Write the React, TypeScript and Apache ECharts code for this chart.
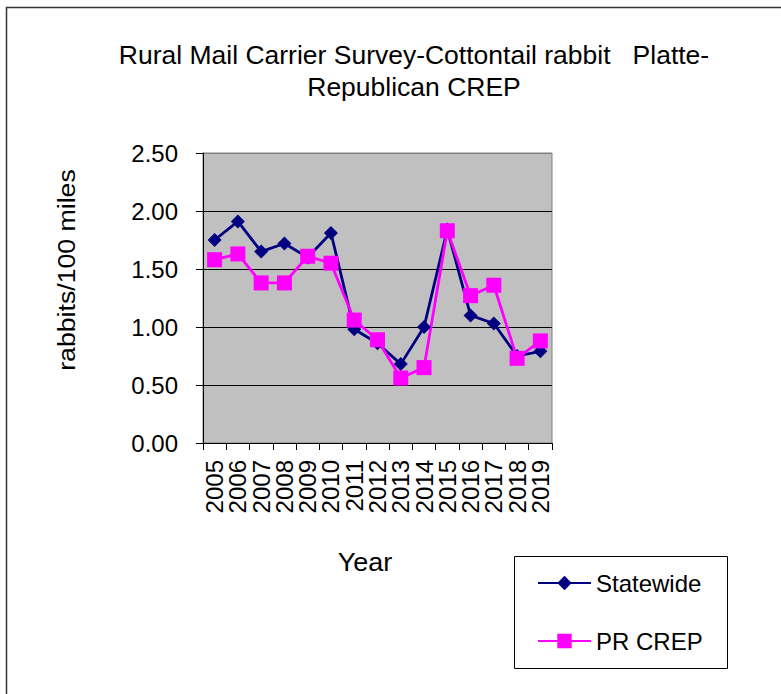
import React, { useEffect, useRef } from "react";
import * as echarts from "echarts";

const years = ["2005","2006","2007","2008","2009","2010","2011","2012","2013","2014","2015","2016","2017","2018","2019"];
const statewide = [1.75, 1.91, 1.65, 1.72, 1.60, 1.81, 0.98, 0.86, 0.68, 1.00, 1.84, 1.10, 1.03, 0.75, 0.79];
const prCrep = [1.58, 1.63, 1.38, 1.38, 1.61, 1.55, 1.06, 0.89, 0.56, 0.65, 1.83, 1.27, 1.36, 0.73, 0.88];
const titleText = "Rural Mail Carrier Survey-Cottontail rabbit   Platte-\nRepublican CREP";
const FONT = "'Liberation Sans', Arial, sans-serif";

export default function App() {
  const ref = useRef<HTMLDivElement>(null);
  useEffect(() => {
    const chart = echarts.init(ref.current!, null, { renderer: "svg" });
    chart.setOption({
      animation: false,
      backgroundColor: "#ffffff",
      textStyle: { fontFamily: FONT },
      grid: {
        left: 203, top: 153, width: 349, height: 290,
        show: true, backgroundColor: "#C0C0C0", borderColor: "#808080", borderWidth: 1,
        containLabel: false,
      },
      legend: {
        orient: "vertical",
        left: 537, top: 571, padding: 0,
        itemWidth: 53, itemHeight: 18, itemGap: 34,
        textStyle: { fontFamily: FONT, fontSize: 24, color: "#000", lineHeight: 24 },
        data: ["Statewide", "PR CREP"],
      },
      xAxis: {
        type: "category",
        data: years,
        boundaryGap: true,
        axisLine: { lineStyle: { color: "#000", width: 1 } },
        axisTick: { show: true, length: 7, lineStyle: { color: "#000" } },
        axisLabel: { rotate: 90, fontSize: 24, color: "#000", margin: 17, fontFamily: FONT, interval: 0 },
        splitLine: { show: false },
      },
      yAxis: {
        type: "value",
        min: 0, max: 2.5, interval: 0.5,
        axisLine: { show: true, lineStyle: { color: "#000", width: 1 } },
        axisTick: { show: true, length: 7, lineStyle: { color: "#000" } },
        axisLabel: { fontSize: 24, color: "#000", margin: 25, fontFamily: FONT, formatter: (v: number) => v.toFixed(2) },
        splitLine: { show: true, lineStyle: { color: ["#000", "#000", "#000", "#000", "#000", "#808080"], width: 1 } },
      },
      series: [
        {
          name: "Statewide", type: "line", data: statewide,
          symbol: "diamond", symbolSize: 14,
          lineStyle: { color: "#000080", width: 2.8 },
          itemStyle: { color: "#000080" },
        },
        {
          name: "PR CREP", type: "line", data: prCrep,
          symbol: "rect", symbolSize: 15,
          lineStyle: { color: "#FF00FF", width: 2.8 },
          itemStyle: { color: "#FF00FF" },
        },
      ],
      graphic: [
        { type: "rect", shape: { x: 6.5, y: 7.5, width: 800, height: 700 }, style: { fill: "none", stroke: "#333", lineWidth: 1.5 }, silent: true, z: -10 },
        { type: "text", x: 414, y: 71, scaleX: 1.06, style: { text: titleText, fontSize: 25, fontFamily: FONT, fill: "#000", textAlign: "center", textVerticalAlign: "middle", lineHeight: 32 } },
        { type: "text", x: 67, y: 270, rotation: Math.PI / 2, scaleX: 1.16, style: { text: "rabbits/100 miles", fontSize: 23, fontFamily: FONT, fill: "#000", textAlign: "center", textVerticalAlign: "middle" } },
        { type: "text", x: 365, y: 562, scaleX: 1.08, style: { text: "Year", fontSize: 25, fontFamily: FONT, fill: "#000", textAlign: "center", textVerticalAlign: "middle" } },
        { type: "rect", shape: { x: 514.5, y: 556.5, width: 213, height: 112 }, style: { fill: "none", stroke: "#000", lineWidth: 1 } },
      ],
    });
    return () => chart.dispose();
  }, []);
  return <div ref={ref} style={{ position: "absolute", left: 0, top: 0, width: 781, height: 694 }} />;
}
